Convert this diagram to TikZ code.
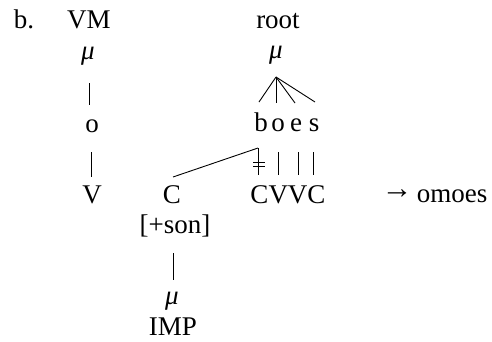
\documentclass[tikz,border=0pt]{standalone}
\usepackage{fontspec}
\setmainfont{Liberation Serif}
\begin{document}
\begin{tikzpicture}[x=1pt,y=-1pt,
  lbl/.style={inner sep=0pt, anchor=base, font=\fontsize{27}{31}\selectfont},
  mu/.style={inner sep=0pt, font=\fontsize{27}{31}\selectfont\itshape},
  arr/.style={inner sep=0pt, font=\fontsize{31}{34}\selectfont},
  assoc/.style={line width=0.9pt}]
\useasboundingbox (0,0) rectangle (492,341);
% left column
\node[lbl] (bdot) at (24,28) {b.};
\node[lbl] (vm) at (89,28) {VM};
\node[mu] (mu1) at (88,56.5) {μ};
\node[lbl] (o1) at (92,132) {o};
\node[lbl] (v1) at (92,203) {V};
\coordinate (l1a) at (89,83);
\coordinate (l1b) at (89,105);
\coordinate (l2a) at (91,152);
\coordinate (l2b) at (91,177);
\draw[assoc] (l1a) -- (l1b);
\draw[assoc] (l2a) -- (l2b);
% root column
\node[lbl] (root) at (278,28) {root};
\node[mu] (mu2) at (276,55.5) {μ};
\node[lbl] (sb) at (261,131) {b};
\node[lbl] (so) at (278,131) {o};
\node[lbl] (se) at (296,131) {e};
\node[lbl] (ss) at (314,131) {s};
\coordinate (apex) at (276,77);
\coordinate (tb) at (259,102);
\coordinate (to) at (276,103);
\coordinate (te) at (295,103);
\coordinate (ts) at (315,102);
\draw[assoc] (apex) -- (tb);
\draw[assoc] (apex) -- (to);
\draw[assoc] (apex) -- (te);
\draw[assoc] (apex) -- (ts);
\node[lbl] (cvvc) at (288,203) {CVVC};
\coordinate (vb1) at (258,148);
\coordinate (vb2) at (258,175);
\coordinate (vo1) at (278,152);
\coordinate (vo2) at (278,175);
\coordinate (ve1) at (298,152);
\coordinate (ve2) at (298,175);
\coordinate (vs1) at (313,152);
\coordinate (vs2) at (313,175);
\draw[assoc] (vb1) -- (vb2);
\draw[assoc] (vo1) -- (vo2);
\draw[assoc] (ve1) -- (ve2);
\draw[assoc] (vs1) -- (vs2);
% delinking bars
\coordinate (d1a) at (253,162.5);
\coordinate (d1b) at (265,162.5);
\coordinate (d2a) at (253,166.5);
\coordinate (d2b) at (265,166.5);
\draw[assoc] (d1a) -- (d1b);
\draw[assoc] (d2a) -- (d2b);
% floating C
\node[lbl] (c) at (172,203) {C};
\coordinate (ctop) at (173,177);
\draw[assoc] (ctop) -- (vb1);
\node[lbl] (son) at (175,233) {[+son]};
\coordinate (s1) at (173,253);
\coordinate (s2) at (173,280);
\draw[assoc] (s1) -- (s2);
\node[mu] (mu3) at (172,301.5) {μ};
\node[lbl] (imp) at (173,335.5) {IMP};
% output
\node[arr] (arrow) at (397,194) {→};
\node[lbl] (out) at (452,202) {omoes};
\end{tikzpicture}
\end{document}
